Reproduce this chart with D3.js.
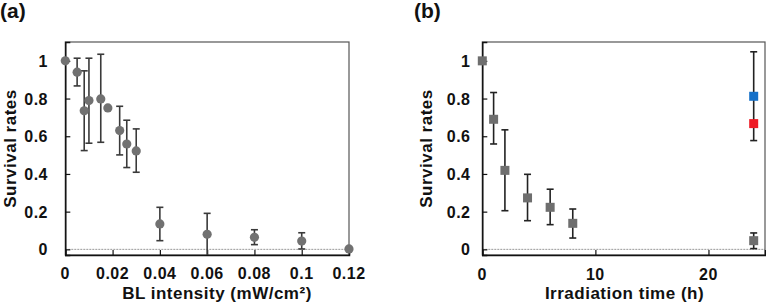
<!DOCTYPE html>
<html><head><meta charset="utf-8">
<script src="https://cdn.jsdelivr.net/npm/d3@7"></script>
<style>
body{margin:0;background:#fff;}
text{font-family:"Liberation Sans",Arial,Helvetica,sans-serif;font-weight:bold;fill:#111;}
</style></head><body>
<svg id="c" width="766" height="308"></svg>
<script>
// Panel (a)
const aX = [0, 0.005, 0.008, 0.010, 0.015, 0.018, 0.023, 0.026, 0.030, 0.04, 0.06, 0.08, 0.1, 0.12];
const aY = [1, 0.94, 0.735, 0.789, 0.798, 0.75, 0.63, 0.559, 0.522, 0.135, 0.08, 0.064, 0.044, 0.002];
const aHi = [null, 1.014, 0.947, 1.014, 1.035, null, 0.759, 0.685, 0.639, 0.223, 0.191, 0.104, 0.088, null];
const aLo = [null, 0.867, 0.524, 0.563, 0.568, null, 0.501, 0.434, 0.409, 0.046, -0.03, 0.025, 0.002, null];
const aXTicks = [0, 0.02, 0.04, 0.06, 0.08, 0.1, 0.12];
const aXTickLabels = ["0", "0.02", "0.04", "0.06", "0.08", "0.1", "0.12"];
// Panel (b)
const bX = [0, 1, 2, 4, 6, 8, 24];
const bY = [1, 0.69, 0.419, 0.273, 0.223, 0.138, 0.046];
const bHi = [null, 0.832, 0.634, 0.398, 0.319, 0.214, 0.087];
const bLo = [null, 0.559, 0.205, 0.152, 0.131, 0.060, 0.004];
const bExtraX = [24, 24];
const bExtraY = [0.812, 0.667];
const bExtraColors = ["#1570c8", "#ee1a24"];
const bExtraErrX = [24];
const bExtraErrHi = [1.048];
const bExtraErrLo = [0.577];
const bXTicks = [0, 10, 20];
const bXTickLabels = ["0", "10", "20"];
const yTicks = [0, 0.2, 0.4, 0.6, 0.8, 1];
const yTickLabels = ["0", "0.2", "0.4", "0.6", "0.8", "1"];

const svg = d3.select("#c");
const plotTop = 42, plotBottom = 255;

function panel(o) {
  const x = d3.scaleLinear().domain(o.xDomain).range([o.left, o.right]);
  const y = d3.scaleLinear().domain([-0.03, 1.1]).range([plotBottom, plotTop]);
  const g = svg.append("g");
  g.append("line").attr("x1", o.left).attr("x2", o.right)
    .attr("y1", y(0)).attr("y2", y(0))
    .attr("stroke", "#999").attr("stroke-width", 1).attr("stroke-dasharray", "2,1");
  g.append("rect").attr("x", o.left).attr("y", plotTop).attr("width", o.right - o.left).attr("height", plotBottom - plotTop)
    .attr("fill", "none").attr("stroke", "#555").attr("stroke-width", 1.2);
  const xa = d3.axisTop(x).tickValues(o.xTicks).tickSize(5).tickFormat("");
  g.append("g").attr("transform", `translate(0,${plotBottom})`).call(xa)
    .call(s => { s.select(".domain").attr("stroke", "#111").attr("stroke-width", 1.5); s.selectAll(".tick line").attr("stroke", "#111").attr("stroke-width", 1.2); });
  const ya = d3.axisRight(y).tickValues(yTicks).tickSize(5).tickFormat("");
  g.append("g").attr("transform", `translate(${o.left},0)`).call(ya)
    .call(s => { s.select(".domain").attr("stroke", "#111").attr("stroke-width", 1.5); s.selectAll(".tick line").attr("stroke", "#111").attr("stroke-width", 1.2); });
  g.selectAll(".xl").data(o.xTicks).enter().append("text")
    .attr("x", d => x(d)).attr("y", o.xLabelY).attr("text-anchor", "middle")
    .style("font-size", "16px").style("letter-spacing", "0.5px")
    .text((d, i) => o.xTickLabels[i]);
  g.selectAll(".yl").data(yTicks).enter().append("text")
    .attr("x", o.yLabelX).attr("y", d => y(d) + 6).attr("text-anchor", "end")
    .style("font-size", "16px").style("letter-spacing", "0.5px")
    .text((d, i) => yTickLabels[i]);
  g.append("text").attr("x", o.xTitleX).attr("y", 299).attr("text-anchor", "middle")
    .style("font-size", "17px").style("letter-spacing", "0.5px").text(o.xTitle);
  g.append("text").attr("transform", `translate(${o.yTitleX},${(plotTop + plotBottom) / 2}) rotate(-90)`)
    .attr("text-anchor", "middle").style("font-size", "17px").style("letter-spacing", "0.5px").text("Survival rates");
  g.append("text").attr("x", o.tagX).attr("y", 18).style("font-size", "21px").text(o.tag);
  return {x, y, g};
}

function errbars(g, x, y, xs, his, los, color) {
  const cap = 3.5;
  xs.forEach((xv, i) => {
    if (his[i] == null) return;
    const lo = Math.max(los[i], -0.03);
    g.append("line").attr("x1", x(xv)).attr("x2", x(xv)).attr("y1", y(his[i])).attr("y2", y(lo))
      .attr("stroke", color).attr("stroke-width", 1.6);
    g.append("line").attr("x1", x(xv) - cap).attr("x2", x(xv) + cap).attr("y1", y(his[i])).attr("y2", y(his[i]))
      .attr("stroke", color).attr("stroke-width", 1.6);
    if (los[i] >= -0.02)
      g.append("line").attr("x1", x(xv) - cap).attr("x2", x(xv) + cap).attr("y1", y(los[i])).attr("y2", y(los[i]))
        .attr("stroke", color).attr("stroke-width", 1.6);
  });
}

const A = panel({xDomain: [0, 0.12], left: 65.3, right: 349, xTicks: aXTicks, xTickLabels: aXTickLabels,
  xLabelY: 279, yLabelX: 48, xTitleX: 217, xTitle: "BL intensity (mW/cm²)", yTitleX: 16, tagX: 0, tag: "(a)"});
errbars(A.g, A.x, A.y, aX, aHi, aLo, "#3a3a3a");
A.g.selectAll(".pa").data(aX).enter().append("circle")
  .attr("cx", d => A.x(d)).attr("cy", (d, i) => A.y(aY[i])).attr("r", 4.6).attr("fill", "#717171");

const B = panel({xDomain: [0, 25], left: 482.3, right: 765, xTicks: bXTicks, xTickLabels: bXTickLabels,
  xLabelY: 279.5, yLabelX: 470.5, xTitleX: 624.5, xTitle: "Irradiation time (h)", yTitleX: 432, tagX: 414, tag: "(b)"});
errbars(B.g, B.x, B.y, bX, bHi, bLo, "#222");
errbars(B.g, B.x, B.y, bExtraX, bExtraErrHi, bExtraErrLo, "#222");
const sq = 9;
B.g.selectAll(".pb").data(bX).enter().append("rect")
  .attr("x", d => B.x(d) - sq / 2).attr("y", (d, i) => B.y(bY[i]) - sq / 2).attr("width", sq).attr("height", sq).attr("fill", "#6e6e6e");
B.g.selectAll(".pe").data(bExtraX).enter().append("rect")
  .attr("x", d => B.x(d) - sq / 2).attr("y", (d, i) => B.y(bExtraY[i]) - sq / 2).attr("width", sq).attr("height", sq)
  .attr("fill", (d, i) => bExtraColors[i]);
</script></body></html>
